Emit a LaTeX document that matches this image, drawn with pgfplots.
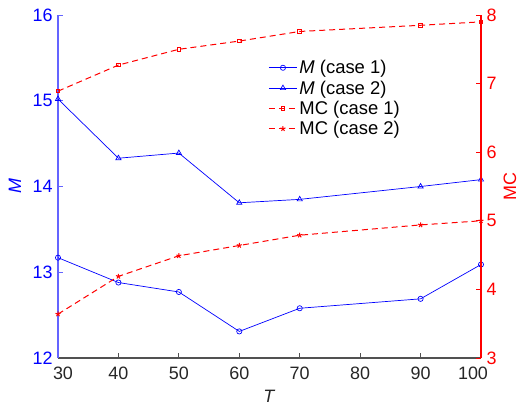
\documentclass[border=0pt]{standalone}
\usepackage{pgfplots}
\pgfplotsset{compat=1.18}
\usepackage{fontspec}
\setmainfont{Liberation Sans}

\definecolor{mblue}{RGB}{0,0,255}
\definecolor{maxisblue}{RGB}{100,100,255}
\definecolor{mred}{RGB}{255,0,0}
\definecolor{mgray}{RGB}{38,38,38}

\pgfplotsset{
  myaxis/.style={
    scale only axis, width=423bp, height=343bp,
    xmin=30, xmax=100,
    tick align=inside, major tick length=5bp,
    /pgf/number format/assume math mode=true,
    tick label style={font=\fontsize{18}{20}\selectfont},
    legend image code/.code={\draw[mark repeat=2,mark phase=2,##1] plot coordinates {(0bp,0bp) (14bp,0bp) (28bp,0bp)};},
  },
}

\begin{document}
\begin{tikzpicture}
\begin{axis}[
  myaxis,
  ymin=12, ymax=16,
  axis x line*=bottom, axis y line*=left,
  xtick={30,40,...,100}, ytick={12,13,...,16},
  xticklabels={\hspace*{10bp}30,40,50,60,70,80,90,100\hspace*{16bp}},
  x axis line style={draw=mgray!80, line width=1.5bp, -},
  y axis line style={draw=maxisblue, line width=1.5bp, -},
  xtick style={draw=mgray!80, line width=0.8bp},
  ytick style={draw=maxisblue, line width=0.8bp},
  xticklabel style={text=mgray, yshift=-5bp},
  yticklabel style={text=mblue, xshift=-2bp},
  xlabel={\textit{T}}, ylabel={\textit{M}},
  every axis x label/.style={at={(axis description cs:0.5,0)}, yshift=-38bp, anchor=center, text=mgray, font=\fontsize{18}{20}\selectfont},
  every axis y label/.style={at={(axis description cs:0,0.5)}, xshift=-43bp, rotate=90, anchor=center, text=mblue, font=\fontsize{18}{20}\selectfont},
]
\addplot[mblue, line width=0.7bp, mark=o, mark size=2.6bp] coordinates {
  (30,13.17) (40,12.88) (50,12.77) (60,12.31) (70,12.58) (90,12.69) (100,13.09)};
\addplot[mblue, line width=0.7bp, mark=triangle, mark size=3bp] coordinates {
  (30,15.02) (40,14.33) (50,14.39) (60,13.81) (70,13.85) (90,14.00) (100,14.08)};
\end{axis}
\begin{axis}[
  myaxis,
  ymin=3, ymax=8,
  axis y line*=right, axis x line=none,
  ytick={3,4,...,8},
  y axis line style={draw=mred, line width=1.5bp, -},
  ytick style={draw=mred, line width=0.8bp},
  yticklabel style={text=mred, xshift=2bp},
  ylabel={MC},
  every axis y label/.style={at={(axis description cs:1,0.5)}, xshift=29bp, rotate=90, anchor=center, text=mred, font=\fontsize{18}{20}\selectfont},
  legend style={draw=none, fill=none, at={(axis description cs:0.49,0.88)}, anchor=north west,
    font=\fontsize{18.5}{20}\selectfont, row sep=1.5bp, cells={anchor=west}},
]
\addlegendimage{mblue, line width=0.7bp, mark=o, mark size=2.6bp}
\addlegendentry{\textit{M} (case 1)}
\addlegendimage{mblue, line width=0.7bp, mark=triangle, mark size=3bp}
\addlegendentry{\textit{M} (case 2)}
\addplot[mred, line width=1bp, dash pattern=on 6bp off 4bp, mark=square, mark size=1.8bp, mark options={solid}] coordinates {
  (30,6.89) (40,7.27) (50,7.50) (60,7.62) (70,7.76) (90,7.85) (100,7.90)};
\addlegendentry{MC (case 1)}
\addplot[mred, line width=1bp, dash pattern=on 6bp off 4bp, mark=star, mark size=2.6bp, mark options={solid}] coordinates {
  (30,3.64) (40,4.19) (50,4.49) (60,4.64) (70,4.79) (90,4.94) (100,5.00)};
\addlegendentry{MC (case 2)}
\end{axis}
\pgfresetboundingbox
\path (-58bp,-47bp) rectangle (463bp,358bp);
\end{tikzpicture}
\end{document}
